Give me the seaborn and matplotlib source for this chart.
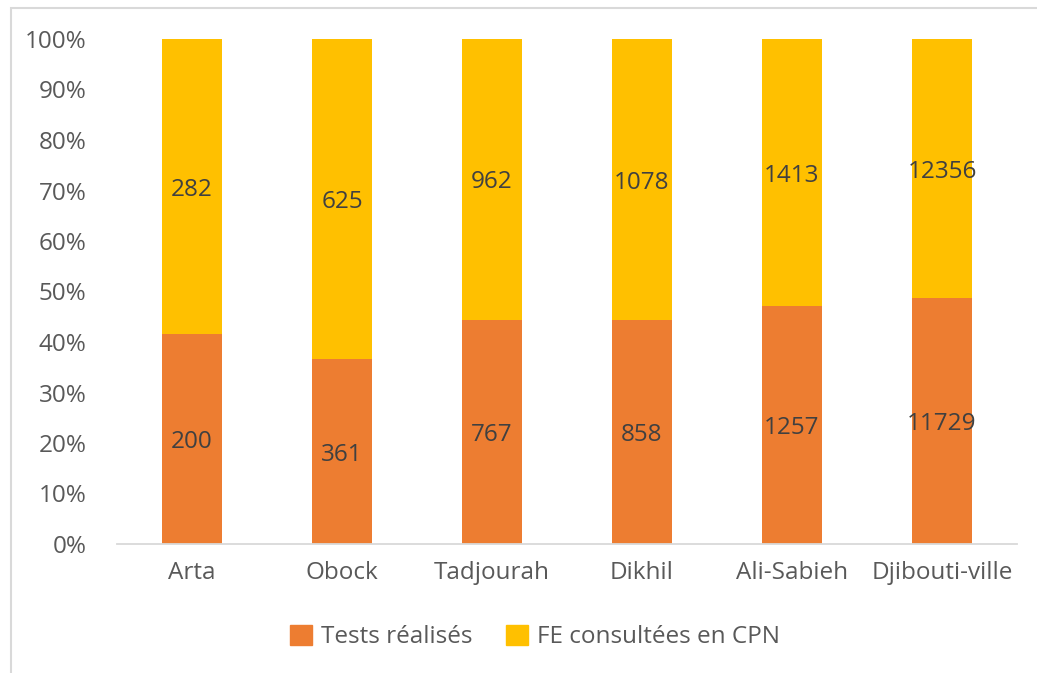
import matplotlib
matplotlib.use("Agg")
import matplotlib.pyplot as plt
import matplotlib.patches as mpatches
import seaborn as sns
import pandas as pd
import numpy as np

regions = ["Arta", "Obock", "Tadjourah", "Dikhil", "Ali-Sabieh", "Djibouti-ville"]
tests = [200, 361, 767, 858, 1257, 11729]
fe_cpn = [282, 625, 962, 1078, 1413, 12356]
series_names = ["Tests réalisés", "FE consultées en CPN"]
yticks = list(range(0, 101, 10))

c_orange = "#ED7D31"
c_yellow = "#FFC000"
c_text = "#595959"
c_label = "#404040"

sns.set_theme(style="white")
plt.rcParams['font.family'] = ['Open Sans', 'DejaVu Sans']

df = pd.DataFrame({"region": regions, "tests": tests, "fe": fe_cpn})
df["total"] = df["tests"] + df["fe"]
df["tests_pct"] = df["tests"] / df["total"] * 100
df["full"] = 100.0

fig = plt.figure(figsize=(10.37, 6.73), dpi=100)
ax = fig.add_axes([117/1037, (673-544)/673, 900/1037, 505/673])

sns.barplot(data=df, x="region", y="full", color=c_yellow, width=0.4,
            saturation=1, ax=ax, linewidth=0)
sns.barplot(data=df, x="region", y="tests_pct", color=c_orange, width=0.4,
            saturation=1, ax=ax, linewidth=0)
if ax.get_legend() is not None:
    ax.get_legend().remove()

fs = 17.5
for i, row in df.iterrows():
    ax.text(i, row["tests_pct"] / 2, f"{row['tests']}", ha="center", va="center_baseline",
            fontsize=fs, color=c_label)
    ax.text(i, row["tests_pct"] + (100 - row["tests_pct"]) / 2, f"{row['fe']}",
            ha="center", va="center_baseline", fontsize=fs, color=c_label)

ax.set_ylim(0, 100)
ax.set_xlim(-0.5, len(regions) - 0.5)
ax.set_yticks(yticks)
ax.set_yticklabels([f"{v}%" for v in yticks])
ax.set_xlabel("")
ax.set_ylabel("")
ax.tick_params(axis="y", length=0, pad=22, labelsize=fs, labelcolor=c_text)
ax.tick_params(axis="x", length=0, pad=12, labelsize=fs, labelcolor=c_text)
for s in ["top", "right", "left"]:
    ax.spines[s].set_visible(False)
ax.spines["bottom"].set_color("#D9D9D9")
ax.spines["bottom"].set_linewidth(1.3)
ax.grid(False)

handles = [mpatches.Patch(color=c_orange), mpatches.Patch(color=c_yellow)]
fig.legend(handles, series_names, loc="center", bbox_to_anchor=(535/1037, (673-637)/673),
           ncol=2, frameon=False, fontsize=fs, labelcolor=c_text,
           handlelength=0.9, handleheight=0.9, handletextpad=0.35, columnspacing=1.4)

border = mpatches.Rectangle((11/1037, -0.1), 1.2, (673-8)/673 + 0.1, transform=fig.transFigure,
                            fill=False, edgecolor="#D9D9D9", linewidth=1.5, clip_on=False)
fig.patches.append(border)

fig.savefig("out.png", dpi=100)
